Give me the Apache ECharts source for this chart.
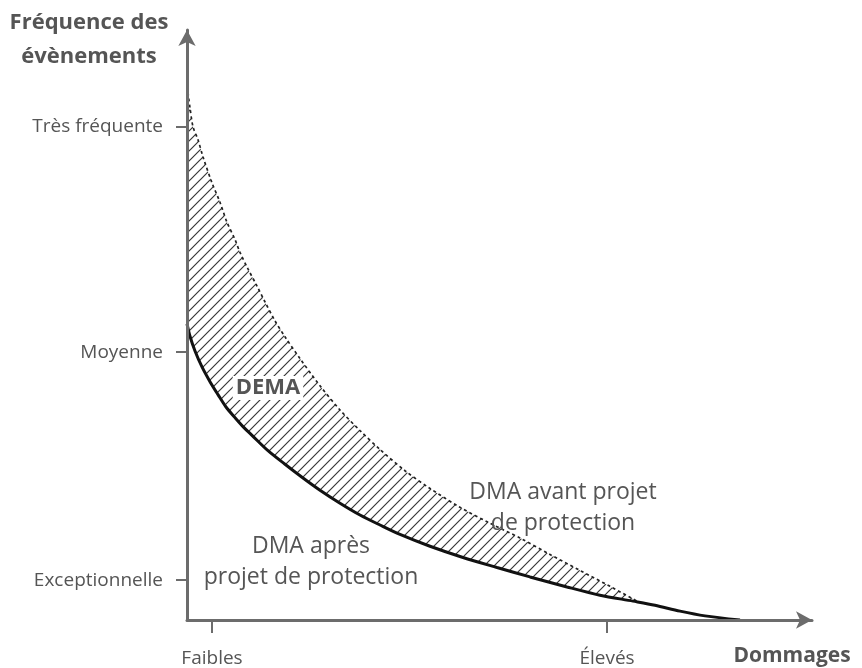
<!DOCTYPE html>
<html>
<head>
<meta charset="utf-8">
<script src="https://cdn.jsdelivr.net/npm/echarts@6/dist/echarts.min.js"></script>
<style>html,body{margin:0;padding:0;background:#fff}#c{width:862px;height:668px}</style>
</head>
<body>
<div id="c"></div>
<script>
// ---- data (relative scale 0..100 on both axes: damages vs event frequency) ----
const avantX = [0.16, 0.48, 0.96, 1.76, 2.56, 4.00, 5.28, 6.40, 7.68, 8.48, 9.76, 11.20, 12.48, 14.08, 15.68, 18.08, 21.28, 24.48, 27.68, 30.88, 34.88, 38.88, 43.68, 48.48, 53.28, 58.08, 62.88, 67.68, 72.00];
const avantY = [89.4, 86.8, 83.6, 81.4, 78.5, 74.1, 70.8, 67.4, 64.5, 62.3, 59.5, 56.6, 53.9, 50.7, 48.0, 44.3, 39.7, 35.6, 32.1, 28.9, 25.3, 22.3, 19.1, 16.4, 13.9, 11.1, 8.4, 5.7, 3.2];
const apresX = [0, 0.48, 1.28, 2.40, 3.68, 4.96, 6.24, 7.68, 9.12, 10.40, 12.96, 15.68, 18.40, 21.28, 24.48, 27.68, 30.88, 34.08, 38.88, 44.16, 49.60, 54.88, 60.80, 66.08, 71.36, 74.88, 78.88, 82.88, 88.48];
const apresY = [50.2, 48.1, 45.6, 42.9, 40.4, 38.2, 36.1, 34.3, 32.6, 31.3, 28.7, 26.4, 24.2, 22.0, 19.8, 17.8, 16.1, 14.5, 12.5, 10.6, 8.9, 7.3, 5.6, 4.2, 3.2, 2.5, 1.5, 0.7, 0];
const yTickValues = [6.76, 45.4, 83.6];
const yTickLabels = ['Exceptionnelle', 'Moyenne', 'Très fréquente'];
const xTickValues = [4.0, 67.2];
const xTickLabels = ['Faibles', 'Élevés'];
const yAxisName = 'Fréquence des\névènements';
const xAxisName = 'Dommages';
const seriesNames = ['DMA avant projet\nde protection', 'DMA après\nprojet de protection', 'DEMA'];

const FONT = '"Open Sans", "Noto Sans", sans-serif';
const TXT = '#555555';
const AXC = '#6c6c6c';

function pair(xs, ys) { return xs.map((x, i) => [x, ys[i]]); }
function lookup(vals, labels) {
  return function (v) {
    for (let i = 0; i < vals.length; i++) if (Math.abs(vals[i] - v) < 1e-6) return labels[i];
    return '';
  };
}

// hatch pattern
const pc = document.createElement('canvas');
const P = 10;
pc.width = P; pc.height = P;
const g = pc.getContext('2d');
g.strokeStyle = '#383838';
g.lineWidth = 1.2;
g.beginPath();
g.moveTo(0, P); g.lineTo(P, 0);
g.moveTo(-2, 2); g.lineTo(2, -2);
g.moveTo(P - 2, P + 2); g.lineTo(P + 2, P - 2);
g.stroke();

const chart = echarts.init(document.getElementById('c'), null, { renderer: 'canvas' });
const axisLine = { show: true, symbol: ['none', 'arrow'], symbolSize: [13, 16], lineStyle: { color: AXC, width: 3 } };

chart.setOption({
  animation: false,
  grid: { left: 187, right: 50, top: 30, bottom: 46 },
  xAxis: {
    type: 'value', min: 0, max: 100, z: 10,
    axisLine: axisLine,
    splitLine: { show: false },
    axisTick: { show: true, customValues: xTickValues, length: 13, lineStyle: { color: AXC, width: 2 } },
    axisLabel: { show: true, customValues: xTickValues, formatter: lookup(xTickValues, xTickLabels), margin: 29, fontSize: 19, fontFamily: FONT, color: TXT }
  },
  yAxis: {
    type: 'value', min: 0, max: 100, z: 10,
    axisLine: axisLine,
    splitLine: { show: false },
    axisTick: { show: true, customValues: yTickValues, length: 11, lineStyle: { color: AXC, width: 2 } },
    axisLabel: { show: true, customValues: yTickValues, formatter: lookup(yTickValues, yTickLabels), margin: 24, fontSize: 19, fontFamily: FONT, color: TXT }
  },
  series: [
    {
      name: 'avant', type: 'line', z: 2, smooth: 0.3, symbol: 'none',
      data: pair(avantX, avantY),
      lineStyle: { color: '#222', width: 1.7, type: [3, 3] },
      areaStyle: { color: { image: pc, repeat: 'repeat' }, opacity: 1 }
    },
    {
      name: 'apres', type: 'line', z: 3, smooth: 0.3, symbol: 'none',
      data: pair(apresX, apresY),
      lineStyle: { color: '#111', width: 3 },
      areaStyle: { color: '#ffffff', opacity: 1 }
    }
  ],
  graphic: [
    { type: 'text', z: 100, x: 89, y: 40, style: { text: yAxisName, align: 'center', verticalAlign: 'middle', font: 'bold 22px ' + FONT, fill: TXT, lineHeight: 34 } },
    { type: 'text', z: 100, x: 792, y: 656, style: { text: xAxisName, align: 'center', verticalAlign: 'middle', font: 'bold 21px ' + FONT, fill: TXT } },
    { type: 'text', z: 100, x: 563, y: 508, style: { text: seriesNames[0], align: 'center', verticalAlign: 'middle', font: '23px ' + FONT, fill: TXT, lineHeight: 31 } },
    { type: 'text', z: 100, x: 311, y: 562, style: { text: seriesNames[1], align: 'center', verticalAlign: 'middle', font: '23px ' + FONT, fill: TXT, lineHeight: 31 } },
    { type: 'text', z: 100, x: 268, y: 388, style: { text: seriesNames[2], align: 'center', verticalAlign: 'middle', font: 'bold 22px ' + FONT, fill: TXT, backgroundColor: '#fff', padding: [1, 3, 1, 3] } }
  ]
});
</script>
</body>
</html>
